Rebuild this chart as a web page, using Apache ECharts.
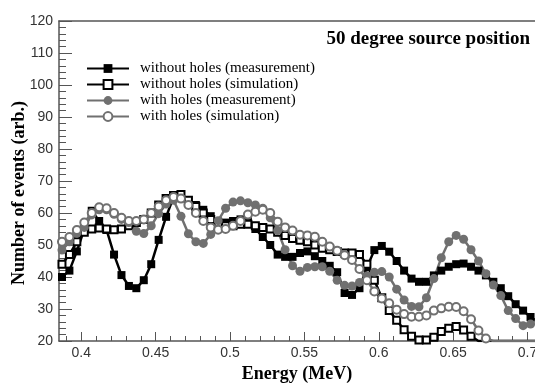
<!DOCTYPE html>
<html>
<head>
<meta charset="utf-8">
<script src="https://cdn.jsdelivr.net/npm/echarts@6/dist/echarts.min.js"></script>
<style>
  html, body { margin: 0; padding: 0; background: #fff; }
  #chart { width: 535px; height: 383px; }
</style>
</head>
<body>
<div id="chart"></div>
<script>
// energy bins (MeV)
const energy = [0.387, 0.392, 0.397, 0.402, 0.407, 0.412, 0.417, 0.422, 0.427, 0.432,
  0.437, 0.442, 0.447, 0.452, 0.457, 0.462, 0.467, 0.472, 0.477, 0.482,
  0.487, 0.492, 0.497, 0.502, 0.507, 0.512, 0.517, 0.522, 0.527, 0.532,
  0.537, 0.542, 0.547, 0.552, 0.557, 0.562, 0.567, 0.572, 0.577, 0.582,
  0.587, 0.592, 0.597, 0.602, 0.607, 0.612, 0.617, 0.622, 0.627, 0.632,
  0.637, 0.642, 0.647, 0.652, 0.657, 0.662, 0.667, 0.672, 0.677, 0.682,
  0.687, 0.692, 0.697, 0.702, 0.707];

const noHolesMeas = [40, 42, 48, 55, 60.7, 57.5, 54.7, 47, 40.6, 37.2,
  36.5, 39, 44, 51.6, 58.8, 65, 65.5, 64, 62.5, 61,
  59, 57.3, 57, 57.5, 58, 57.8, 55, 52.5, 50, 47,
  46.3, 46.3, 47.5, 48, 46.5, 45, 43.5, 41.5, 35, 34.4,
  36.5, 43, 48.4, 49.7, 47.9, 45, 42, 39.5, 38.5, 38.5,
  40.5, 42, 43.2, 44, 44.2, 43.2, 42, 40.5, 38.5, 36.5,
  34, 31.5, 29.5, 27.5, 26];

const noHolesSim = [44, 47, 51, 54, 55, 55.3, 55, 54.8, 55, 56,
  57, 58, 60, 62.5, 64.5, 65.5, 65.8, 64, 62, 60,
  58, 56.5, 56, 56, 56.5, 56.5, 56, 55.5, 55, 54,
  53, 52, 51.5, 51, 50, 49, 48.5, 48, 47.5, 47.5,
  47, 44, 39, 33.5, 29.5, 26.5, 23.5, 21.5, 20.3, 20.3,
  21.2, 23, 24, 24.5, 23.4, 21.5, 20, 20, 20, 20,
  20, 20, 20, 20, 20];

const holesMeas = [48.4, 51, 53.7, 55.5, 59.4, 61, 61, 59.6, 58, 57,
  54.3, 53.6, 56, 59.8, 62.8, 64, 59, 53.5, 51, 50.5,
  53.3, 57.6, 61.5, 63.4, 63.8, 63.2, 62.5, 61.5, 58.5, 54.5,
  48.5, 43.5, 41.8, 43, 43.2, 43.2, 41.8, 39, 37.4, 37.2,
  38.3, 40.3, 41.5, 41.7, 40, 36.2, 32.8, 30.8, 30.7, 33.5,
  39.5, 46, 51, 53, 51.8, 48.5, 45, 41, 37.5, 34.2,
  29.5, 27, 24.8, 25.3, 27];

const holesSim = [51, 52.5, 54.7, 57, 60, 61.8, 61.5, 60, 58.5, 57.5,
  57.5, 58, 60, 62, 64, 65, 64.5, 62.5, 60, 57.5,
  55.5, 54.8, 55, 56, 57.5, 59.5, 60.4, 61, 60, 57.3,
  55.5, 54.5, 53.2, 53, 52.6, 51, 49.5, 48.2, 46.8, 45.3,
  42.5, 39, 35.5, 33.3, 31.8, 29.8, 28.4, 27.6, 27.6, 28,
  29.5, 30.2, 30.7, 30.6, 29.3, 26.8, 23.3, 20.8, 20, 20,
  20, 20, 20, 20, 20];

// tick positions
const xMajor = [0.4, 0.45, 0.5, 0.55, 0.6, 0.65, 0.7];
const xMinor = [0.39, 0.41, 0.42, 0.43, 0.44, 0.46, 0.47, 0.48, 0.49, 0.51, 0.52, 0.53, 0.54,
  0.56, 0.57, 0.58, 0.59, 0.61, 0.62, 0.63, 0.64, 0.66, 0.67, 0.68, 0.69];

const serif = '"Liberation Serif", "Times New Roman", serif';
const sans = '"Liberation Sans", Arial, sans-serif';
const axisColor = '#555';
const gray = '#707070';

// points sitting on the floor (20) are drawn without a marker
function pts(vals) {
  return energy.map((e, i) => vals[i] <= 20 ? { value: [e, 20], symbol: 'none' } : [e, vals[i]]);
}

const chart = echarts.init(document.getElementById('chart'));

chart.setOption({
  animation: false,
  title: {
    text: '50 degree source position',
    right: 5,
    top: 30,
    padding: 0,
    textStyle: { fontFamily: serif, fontWeight: 'bold', fontSize: 19, color: '#000' }
  },
  legend: {
    orient: 'vertical',
    left: 86,
    top: 61,
    padding: 0,
    itemWidth: 42,
    itemHeight: 11,
    itemGap: 1,
    textStyle: { fontFamily: serif, fontSize: 15, lineHeight: 14.7, color: '#000', padding: [0, 0, 0, 6] },
    data: ['without holes (measurement)', 'without holes (simulation)',
      'with holes (measurement)', 'with holes (simulation)']
  },
  grid: { left: 59, right: 0, top: 21, bottom: 42, outerBoundsMode: 'none', containLabel: false },
  xAxis: [
    {
      type: 'value', min: 0.385, max: 0.705, position: 'bottom',
      name: 'Energy (MeV)', nameLocation: 'middle', nameGap: 23,
      nameTextStyle: { fontFamily: serif, fontWeight: 'bold', fontSize: 18, color: '#000' },
      axisLine: { lineStyle: { color: axisColor, width: 1.5 } },
      axisTick: { inside: true, length: 9, customValues: xMajor, lineStyle: { color: axisColor } },
      axisLabel: { customValues: xMajor, fontFamily: sans, fontSize: 14, color: '#333', margin: 5 },
      splitLine: { show: false }
    },
    {
      type: 'value', min: 0.385, max: 0.705, position: 'bottom',
      axisLine: { show: false },
      axisTick: { inside: true, length: 5, customValues: xMinor, lineStyle: { color: axisColor } },
      axisLabel: { show: false },
      splitLine: { show: false }
    },
    {
      type: 'value', min: 0.385, max: 0.705, position: 'top',
      axisLine: { lineStyle: { color: axisColor, width: 1.5 } },
      axisTick: { show: false },
      axisLabel: { show: false },
      splitLine: { show: false }
    }
  ],
  yAxis: {
    type: 'value', min: 20, max: 120, interval: 10,
    name: 'Number of events (arb.)', nameLocation: 'middle', nameGap: 31, nameMoveOverlap: false,
    nameTextStyle: { fontFamily: serif, fontWeight: 'bold', fontSize: 18, color: '#000', padding: [0, 24, 0, 0] },
    axisLine: { show: true, lineStyle: { color: axisColor, width: 1.5 } },
    axisTick: { show: true, inside: true, length: 13, lineStyle: { color: axisColor } },
    minorTick: { show: true, splitNumber: 5, length: 7, lineStyle: { color: axisColor } },
    axisLabel: { fontFamily: sans, fontSize: 14, color: '#333', margin: 6 },
    splitLine: { show: false }
  },
  series: [
    {
      name: 'without holes (measurement)', type: 'line', data: pts(noHolesMeas),
      symbol: 'rect', symbolSize: 8,
      lineStyle: { color: '#000', width: 2.5 },
      itemStyle: { color: '#000' }
    },
    {
      name: 'without holes (simulation)', type: 'line', data: pts(noHolesSim),
      symbol: 'emptyRect', symbolSize: 7,
      lineStyle: { color: '#000', width: 2.5 },
      itemStyle: { color: '#000', borderWidth: 1.2 }
    },
    {
      name: 'with holes (measurement)', type: 'line', data: pts(holesMeas),
      symbol: 'circle', symbolSize: 9,
      lineStyle: { color: gray, width: 2.5 },
      itemStyle: { color: gray }
    },
    {
      name: 'with holes (simulation)', type: 'line', data: pts(holesSim),
      symbol: 'emptyCircle', symbolSize: 8,
      lineStyle: { color: gray, width: 2.5 },
      itemStyle: { color: gray, borderWidth: 1.2 }
    }
  ]
});
</script>
</body>
</html>
